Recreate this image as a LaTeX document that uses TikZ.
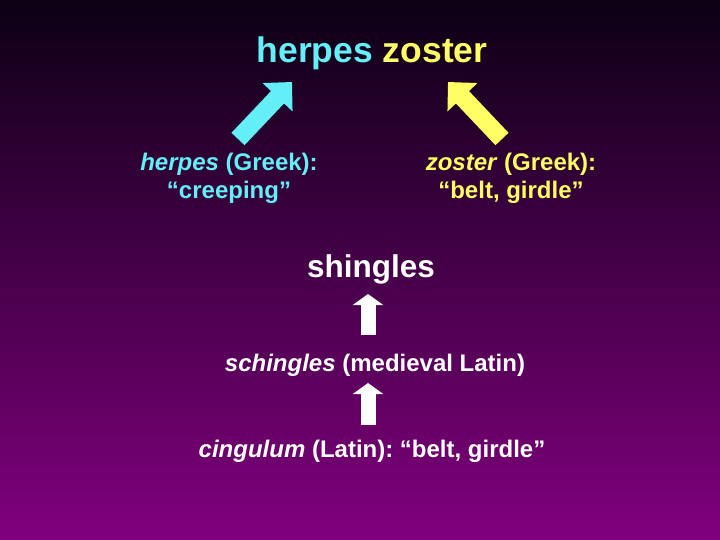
\documentclass[tikz,border=0pt]{standalone}
\usepackage{fontspec}
\setmainfont{Liberation Sans}
\usetikzlibrary{arrows.meta}

\definecolor{bgtop}{RGB}{12,0,20}
\definecolor{bgmid}{RGB}{78,0,90}
\definecolor{bgbottom}{RGB}{128,0,126}
\definecolor{greekcyan}{RGB}{100,238,245}
\definecolor{greekyellow}{RGB}{255,255,100}

\frenchspacing

\begin{document}
\begin{tikzpicture}[x=1pt,y=-1pt,
    word/.style={font=\bfseries\fontsize{24}{28}\selectfont, inner sep=0pt, align=center, anchor=base},
    blockarrow/.style={line width=18pt, -{Triangle[length=21pt,width=40pt]}},
    uparrow/.style={line width=15pt, white, -{Triangle[length=11pt,width=30pt]}}]

    % Background of the slide
    \useasboundingbox (0,0) rectangle (720,540);
    \shade[top color=bgtop, middle color=bgmid, bottom color=bgbottom] (0,0) rectangle (720,540);

    % The words (base of a two-line node is its last line)
    \node[word, font=\bfseries\fontsize{35.5}{40}\selectfont] (title) at (372,63)
        {\textcolor{greekcyan}{herpes} \textcolor{greekyellow}{zoster}};
    \node[word, text=greekcyan] (herpes) at (229,199)
        {\textit{herpes} (Greek):\\``creeping''};
    \node[word, text=greekyellow] (zoster) at (511,199)
        {\textit{zoster} (Greek):\\``belt, girdle''};
    \node[word, white, font=\bfseries\fontsize{31.5}{36}\selectfont] (shingles) at (371,277) {shingles};
    \node[word, white] (schingles) at (375,371) {\textit{schingles} (medieval Latin)};
    \node[word, white] (cingulum) at (372,457) {\textit{cingulum} (Latin): ``belt, girdle''};

    % Ends of the arrows
    \coordinate (herpesTail) at (238,139);
    \coordinate (herpesTip) at (292,82);
    \coordinate (zosterTail) at (502,139);
    \coordinate (zosterTip) at (448,82);
    \coordinate (schinglesTop) at (368,335);
    \coordinate (shinglesBottom) at (368,294);
    \coordinate (cingulumTop) at (368,425);
    \coordinate (schinglesBottom) at (368,383);

    % Arrows
    \draw[blockarrow, greekcyan] (herpesTail) -- (herpesTip);
    \draw[blockarrow, greekyellow] (zosterTail) -- (zosterTip);
    \draw[uparrow] (schinglesTop) -- (shinglesBottom);
    \draw[uparrow] (cingulumTop) -- (schinglesBottom);
\end{tikzpicture}
\end{document}
